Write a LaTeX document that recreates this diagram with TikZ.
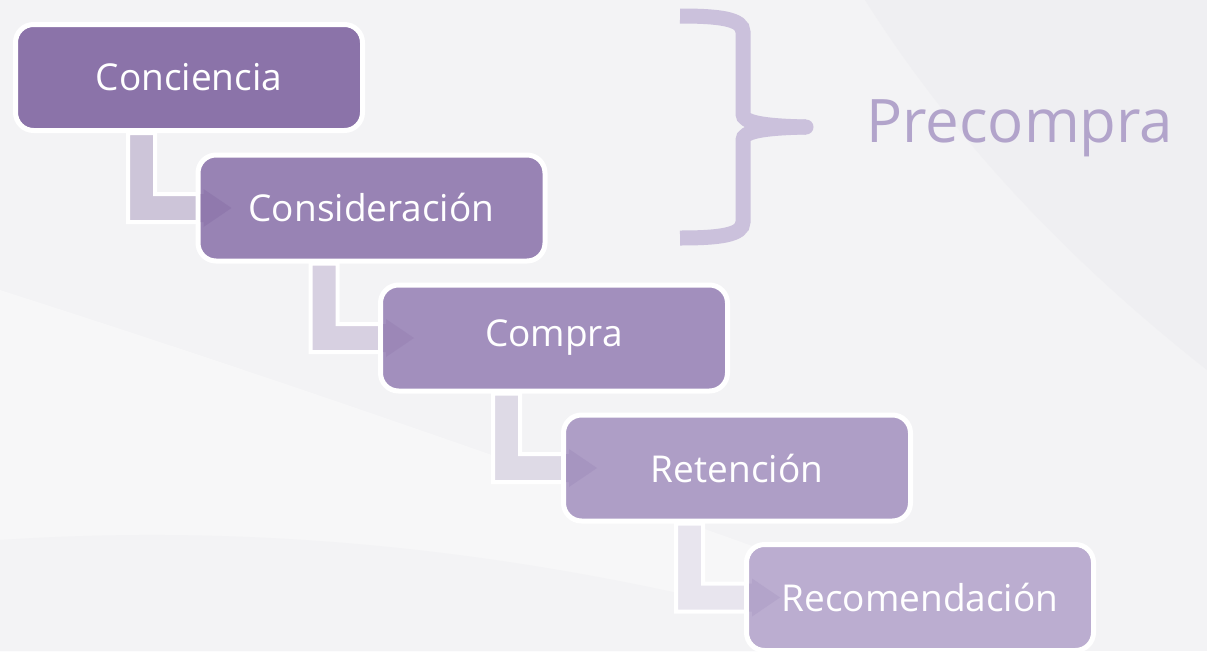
\documentclass[tikz,border=0pt]{standalone}
\usepackage{fontspec}
\setmainfont{Open Sans}
\usetikzlibrary{positioning,calc,backgrounds}

\definecolor{paper}{HTML}{F3F3F5}
\definecolor{paperlight}{HTML}{F7F7F8}
\definecolor{paperdark}{HTML}{EFEFF2}
\definecolor{stageA}{HTML}{8B73A9}
\definecolor{stageB}{HTML}{9883B4}
\definecolor{stageC}{HTML}{A28FBD}
\definecolor{stageD}{HTML}{AE9EC6}
\definecolor{stageE}{HTML}{BBADD0}
\definecolor{linkA}{HTML}{CDC5D9}
\definecolor{linkB}{HTML}{D7D0E1}
\definecolor{linkC}{HTML}{DEDAE6}
\definecolor{linkD}{HTML}{E8E5EE}
\definecolor{braceclr}{HTML}{CBC1DC}
\definecolor{labelclr}{HTML}{B2A4CB}

\tikzset{stage/.style={draw=white, line width=5pt, rounded corners=18pt,
  minimum width=347pt, minimum height=106pt, text=white,
  font=\fontsize{37}{44}\selectfont},
%L-shaped arrow between two stages
link/.style={draw=white, line width=4pt, line join=miter},
bracestroke/.style={draw=braceclr, line width=15pt}}

% #1 from, #2 to, #3 bar colour, #4 tint inside the box
\newcommand{\stagelink}[4]{
  \coordinate (t) at ($(#1.south west)+(115,0)$);
  \begin{scope}[on background layer]
  \filldraw[link, fill=#3] (t) -- ++(27,0) |- ($(#2.west)+(8,-14)$) -- ++(0,-5)
    -- ($(#2.west)+(36,0)$) -- ($(#2.west)+(8,19)$) -- ++(0,-5) -| (t) -- cycle;
  \end{scope}
  \begin{scope}
  \clip ($(#2.south west)+(5,-5)$) rectangle ($(#2.north east)+(-5,5)$);
  \fill[#4, fill opacity=0.6] (t) -- ++(27,0) |- ($(#2.west)+(8,-14)$) -- ++(0,-5)
    -- ($(#2.west)+(36,0)$) -- ($(#2.west)+(8,19)$) -- ++(0,-5) -| (t) -- cycle;
  \end{scope}
}

\begin{document}
\begin{tikzpicture}[x=1pt, y=-1pt]

\useasboundingbox (0,0) rectangle (1207,651);

\node[stage, fill=stageA] (aware) at (189,77.5) {Conciencia};
\node[stage, fill=stageB] (consider) at (371.5,208) {Consideración};
\node[stage, fill=stageC] (buy) at (554,338) {Compra};
\node[stage, fill=stageD] (keep) at (737,468) {Retención};
\node[stage, fill=stageE] (advise) at (920,597.5) {Recomendación};

\begin{scope}[on background layer]
  \fill[paper] (0,0) rectangle (1207,651);
  \fill[paperlight] (0,290) .. controls (250,370) and (450,440) .. (620,500)
    .. controls (800,560) and (950,620) .. (1000,651) -- (0,651) -- cycle;
  \fill[paper] (0,540) .. controls (300,520) and (600,560) .. (900,651) -- (0,651) -- cycle;
  \fill[paperdark] (865,0) .. controls (960,150) and (1080,270) .. (1207,370) -- (1207,0) -- cycle;
\end{scope}

\stagelink{aware}{consider}{linkA}{stageA}
\stagelink{consider}{buy}{linkB}{stageB}
\stagelink{buy}{keep}{linkC}{stageC}
\stagelink{keep}{advise}{linkD}{stageD}

% brace
\draw[bracestroke] (680,16) .. controls (720,16) and (743,19) .. (743,32) -- (743,114)
  .. controls (743,122) and (760,126) .. (806,127);
\draw[bracestroke] (680,238) .. controls (720,238) and (743,235) .. (743,222) -- (743,140)
  .. controls (743,132) and (760,128) .. (806,127);
\fill[braceclr] (806,127) circle (7.5);

\node[anchor=base west, text=labelclr, inner sep=0pt,
  font=\fontsize{60}{72}\selectfont] (pre) at (866,142) {Precompra};

\end{tikzpicture}
\end{document}
